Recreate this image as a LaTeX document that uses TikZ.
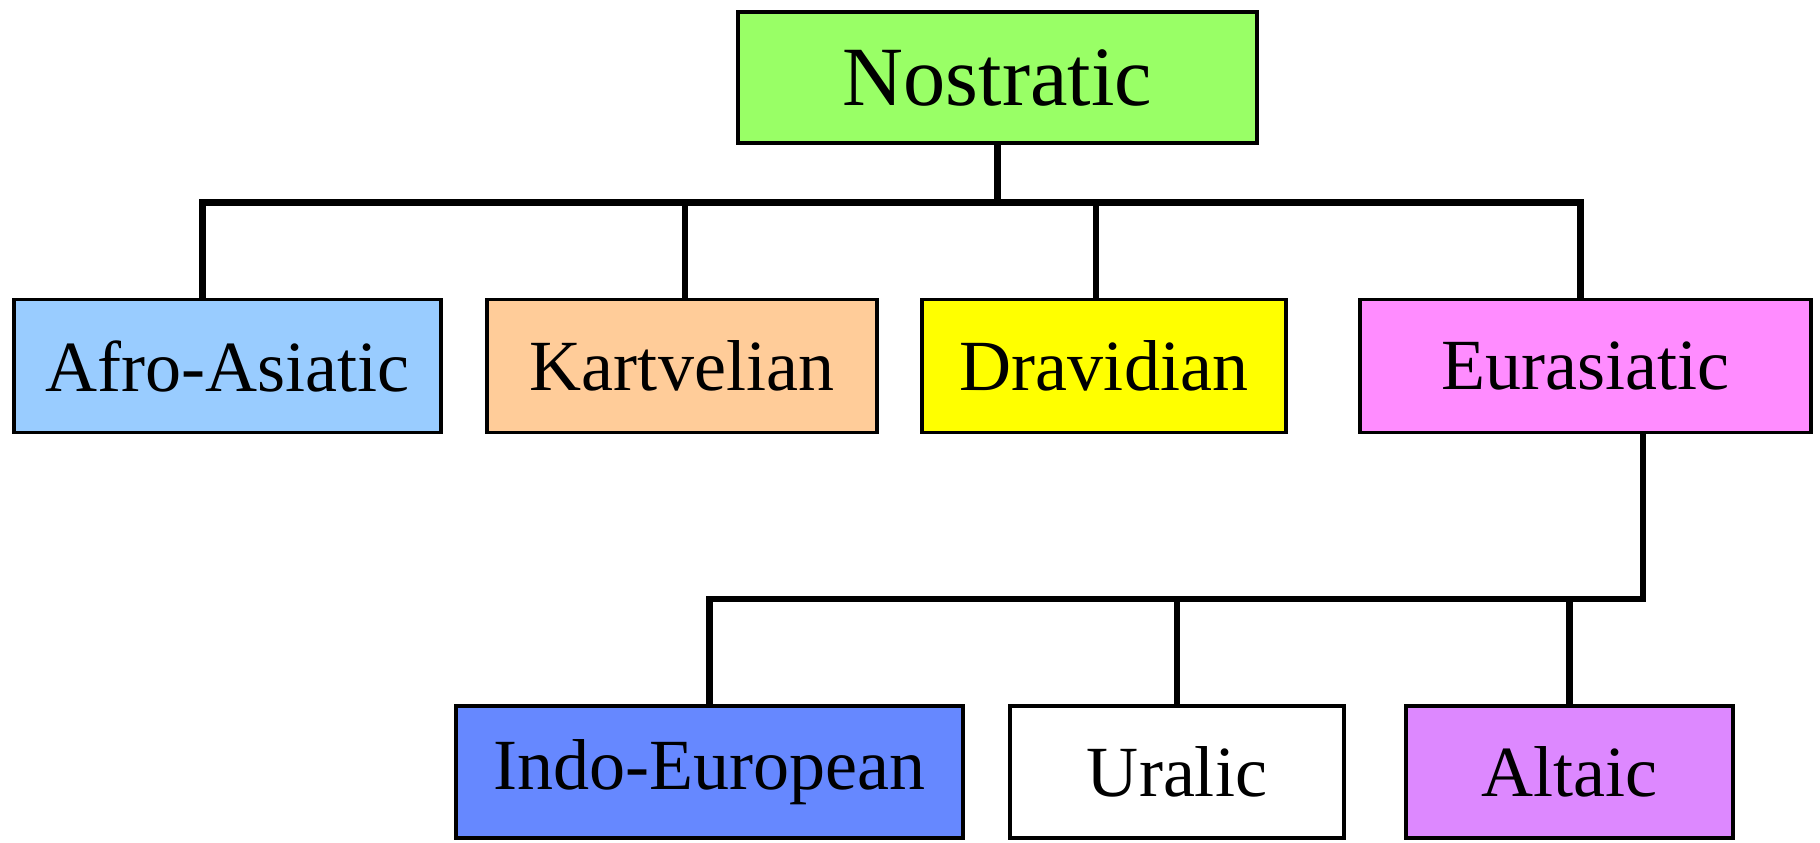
\documentclass[tikz,border=0pt]{standalone}
\usepackage{fontspec}
\setmainfont{Liberation Serif}
\usepackage{xcolor}
\usepackage{tikz}
\usetikzlibrary{positioning}

\definecolor{nosgreen}{HTML}{99FF66}
\definecolor{afroblue}{HTML}{99CCFF}
\definecolor{kartpeach}{HTML}{FFCC99}
\definecolor{dravyellow}{HTML}{FFFF00}
\definecolor{eurapink}{HTML}{FF8CFF}
\definecolor{ieblue}{HTML}{6688FF}
\definecolor{altviolet}{HTML}{DD88FF}

\tikzset{
  lang/.style={draw, line width=0.9pt, rectangle, minimum height=1.33cm,
    inner sep=0pt, font=\fontsize{20.5}{24}\selectfont},
  link/.style={line width=1.8pt}
}

\begin{document}
\begin{tikzpicture}[node distance=4cm,on grid]
   \useasboundingbox (0,0) rectangle (18.2,-8.42);
   \node[lang, fill=nosgreen, minimum width=5.19cm, minimum height=1.31cm,
         font=\fontsize{24}{28}\selectfont] (nos) at (9.975,-0.775) {Nostratic};
   \node[lang, fill=afroblue, minimum width=4.27cm] (afro) at (2.275,-3.66) {Afro-Asiatic};
   \node[lang, fill=kartpeach, minimum width=3.90cm] (kart) [right=4.545cm of afro] {Kartvelian};
   \node[lang, fill=dravyellow, minimum width=3.64cm] (drav) [right=4.22cm of kart] {Dravidian};
   \node[lang, fill=eurapink, minimum width=4.51cm] (eura) [right=4.815cm of drav] {Eurasiatic};
   \node[lang, fill=ieblue, minimum width=5.07cm, minimum height=1.32cm] (ie) at (7.095,-7.72) {Indo-European};
   \node[lang, fill=white, minimum width=3.34cm, minimum height=1.32cm] (ural) [right=4.675cm of ie] {Uralic};
   \node[lang, fill=altviolet, minimum width=3.27cm, minimum height=1.32cm] (alt) [right=3.925cm of ural] {Altaic};

   % first split
   \draw[link] (nos.south) -- ++(0,-0.58) coordinate (bus1);
   \draw[link] ([xshift=-2.5mm]afro.north) |- (bus1) -| ([xshift=-0.5mm]eura.north);
   \draw[link] ([xshift=0.3mm]kart.north) -- ([xshift=0.3mm]kart.north |- bus1);
   \draw[link] ([xshift=-0.8mm]drav.north) -- ([xshift=-0.8mm]drav.north |- bus1);

   % second split
   \draw[link] ([xshift=5.75mm]eura.south) -- ++(0,-1.65) coordinate (bus2) -| (ie.north);
   \foreach \n in {ural,alt}
     \draw[link] (\n.north) -- (\n.north |- bus2);
\end{tikzpicture}
\end{document}
